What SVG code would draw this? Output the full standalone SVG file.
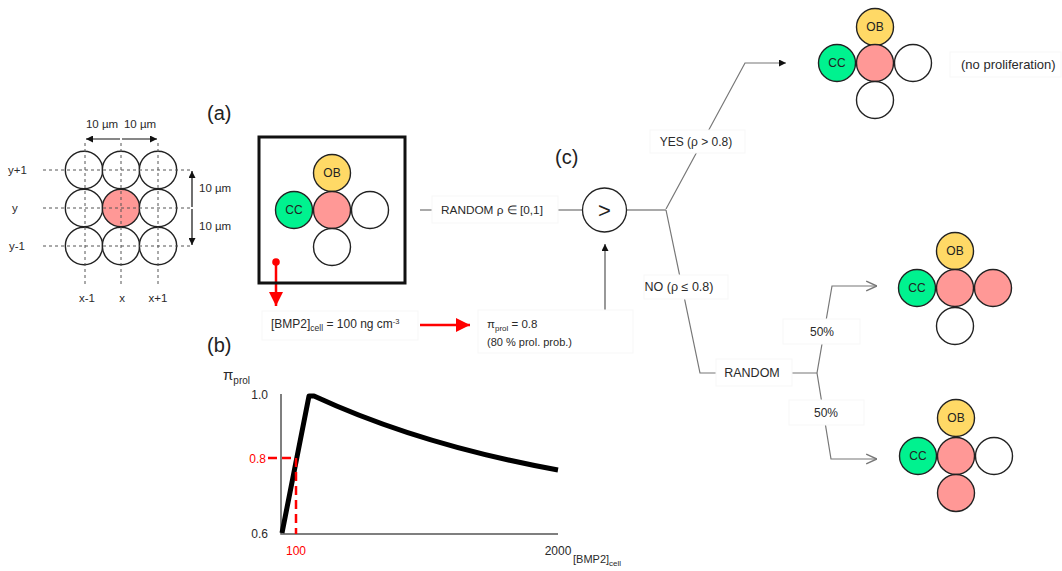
<svg xmlns="http://www.w3.org/2000/svg" width="1062" height="571" viewBox="0 0 1062 571">
<style>
text{font-family:"Liberation Sans",Arial,sans-serif;fill:#2a2a2a;font-size:11.5px}
.h{font-size:20px;fill:#222}
.cell{stroke:#222;stroke-width:1.4}
.w{fill:#fff}.p{fill:#ff9896}.ob{fill:#ffd966}.cc{fill:#00f28f}
.dash{stroke:#555;stroke-width:1;stroke-dasharray:3,3;fill:none}
.tb{fill:#fff;stroke:#f7f7f7;stroke-width:1}
.con{stroke:#777;stroke-width:1.2;fill:none}
.lbl{text-anchor:middle}
.cl{font-size:12px;text-anchor:middle;fill:#222}
</style>
<defs>
<marker id="ab" viewBox="0 0 10 10" refX="10" refY="5" markerWidth="7" markerHeight="7" orient="auto-start-reverse" markerUnits="userSpaceOnUse"><path d="M0,0L10,5L0,10z" fill="#111"/></marker>
<marker id="ar" viewBox="0 0 10 10" refX="10" refY="5" markerWidth="14" markerHeight="14" orient="auto" markerUnits="userSpaceOnUse"><path d="M0,0L10,5L0,10z" fill="#f00"/></marker>
<marker id="ao" viewBox="0 0 10 10" refX="10" refY="5" markerWidth="12" markerHeight="12" orient="auto" markerUnits="userSpaceOnUse"><path d="M1,1L10,5L1,9" fill="none" stroke="#777" stroke-width="1.2"/></marker>
</defs>

<!-- Grid -->
<g id="grid">
<g class="cell">
<circle cx="84" cy="170" r="18.7" class="w"/><circle cx="121" cy="170" r="18.7" class="w"/><circle cx="158" cy="170" r="18.7" class="w"/>
<circle cx="84" cy="208" r="18.7" class="w"/><circle cx="121" cy="208" r="18.7" class="p"/><circle cx="158" cy="208" r="18.7" class="w"/>
<circle cx="84" cy="246" r="18.7" class="w"/><circle cx="121" cy="246" r="18.7" class="w"/><circle cx="158" cy="246" r="18.7" class="w"/>
</g>
<path class="dash" d="M43,170H192M43,208H192M43,246H192M85,143V287M121,143V287M158,143V287"/>
<path d="M86,139H120M122,139H157" fill="none" stroke="#111" stroke-width="1.2" marker-start="url(#ab)" marker-end="url(#ab)"/>
<path d="M192,171V207M192,209V245" fill="none" stroke="#111" stroke-width="1.2" marker-start="url(#ab)" marker-end="url(#ab)"/>
<text x="102" y="128" class="lbl">10 µm</text>
<text x="140" y="128" class="lbl">10 µm</text>
<text x="199" y="192">10 µm</text>
<text x="199" y="230">10 µm</text>
<text x="8" y="174">y+1</text>
<text x="12" y="212">y</text>
<text x="9" y="250">y-1</text>
<text x="87" y="302" class="lbl">x-1</text>
<text x="122" y="302" class="lbl">x</text>
<text x="158" y="302" class="lbl">x+1</text>
</g>

<text x="207" y="120" class="h">(a)</text>
<text x="207" y="352" class="h">(b)</text>
<text x="555" y="164" class="h">(c)</text>

<!-- Connectors -->
<g id="connectors">
<path d="M420,210H432M558,210H582" fill="none" stroke="#555" stroke-width="1.2"/>
<path d="M626.5,210H666" fill="none" stroke="#555" stroke-width="1.2"/>
<path d="M557,325H605V244" fill="none" stroke="#555" stroke-width="1.2" marker-end="url(#ab)"/>
<path class="con" d="M666,209L745,63H786" marker-end="url(#ab)"/>
<path class="con" d="M666,210L700,373H716"/>
<path class="con" d="M792,373H817M817,373L832,286H877" marker-end="url(#ao)"/>
<path class="con" d="M817,373L831,459H877" marker-end="url(#ao)"/>
<path d="M276,262V306" fill="none" stroke="#f00" stroke-width="2.5" marker-end="url(#ar)"/>
<circle cx="276" cy="262" r="3.8" fill="#f00"/>
<path d="M420,325H470" fill="none" stroke="#f00" stroke-width="2.5" marker-end="url(#ar)"/>
</g>

<!-- Box a -->
<g id="box-a">
<rect x="259" y="137" width="146" height="146" fill="none" stroke="#111" stroke-width="3"/>
<g class="cell">
<circle cx="332" cy="173" r="18.5" class="ob"/>
<circle cx="294" cy="210" r="18.5" class="cc"/>
<circle cx="332" cy="210" r="18.5" class="p"/>
<circle cx="370" cy="210" r="18.5" class="w"/>
<circle cx="332" cy="247" r="18.5" class="w"/>
</g>
<text x="332" y="177" class="cl">OB</text>
<text x="294" y="214" class="cl">CC</text>
</g>

<g id="random">
<rect class="tb" x="432" y="196" width="126" height="27"/>
<text x="441" y="214" style="font-size:11.8px">RANDOM ρ ∈ [0,1]</text>
</g>

<g id="compare">
<circle cx="604.5" cy="210" r="22" fill="#fff" stroke="#222" stroke-width="1.3"/>
<text x="604.5" y="218" class="lbl" style="font-size:22px;fill:#222">&gt;</text>
</g>

<g id="bmp">
<rect class="tb" x="262" y="311" width="156" height="29"/>
<text x="271" y="328" style="font-size:12px">[BMP2]<tspan font-size="8.5" dy="3">cell</tspan><tspan dy="-3"> = 100 ng cm</tspan><tspan font-size="7.5" dy="-4">-3</tspan></text>
</g>

<g id="pi">
<rect class="tb" x="478" y="310" width="155" height="43"/>
<text x="487" y="328">π<tspan font-size="8" dy="3">prol</tspan><tspan dy="-3"> = 0.8</tspan></text>
<text x="487" y="346" style="font-size:11px">(80 % prol. prob.)</text>
</g>

<!-- Graph b -->
<g id="graph">
<path d="M281,394V534H558" fill="none" stroke="#555" stroke-width="1.5"/>
<path d="M282,533L309,396H314Q420,445 558,470" fill="none" stroke="#000" stroke-width="5" stroke-linejoin="round"/>
<path d="M268,458H296V534" fill="none" stroke="#f00" stroke-width="2.5" stroke-dasharray="9,5"/>
<text x="223" y="380" style="font-size:15px">π<tspan font-size="10" dy="4">prol</tspan></text>
<text x="268" y="399" text-anchor="end" style="font-size:12px">1.0</text>
<text x="266" y="463" text-anchor="end" style="font-size:12px;fill:#f00">0.8</text>
<text x="268" y="538" text-anchor="end" style="font-size:12px">0.6</text>
<text x="296" y="555" class="lbl" style="font-size:12px;fill:#f00">100</text>
<text x="558" y="555" class="lbl" style="font-size:12px">2000</text>
<text x="573" y="563" style="font-size:11px">[BMP2]<tspan font-size="8" dy="3">cell</tspan></text>
</g>

<!-- Branch labels -->
<g id="yes"><rect class="tb" x="650" y="130" width="95" height="23"/><text x="696" y="146" class="lbl" style="font-size:12px">YES (ρ &gt; 0.8)</text></g>
<g id="no"><rect class="tb" x="644" y="275" width="84" height="24"/><text x="679" y="291" class="lbl" style="font-size:12.5px">NO (ρ ≤ 0.8)</text></g>
<g id="random2"><rect class="tb" x="716" y="359" width="76" height="27"/><text x="752" y="377" class="lbl" style="font-size:12.5px">RANDOM</text></g>
<g id="p50a"><rect class="tb" x="783" y="319" width="77" height="25"/><text x="822" y="336" class="lbl" style="font-size:12px">50%</text></g>
<g id="p50b"><rect class="tb" x="789" y="400" width="75" height="25"/><text x="826" y="417" class="lbl" style="font-size:12px">50%</text></g>

<!-- Outcome 1 -->
<g id="out-none">
<g class="cell">
<circle cx="875" cy="27" r="18.5" class="ob"/>
<circle cx="837" cy="63" r="18.5" class="cc"/>
<circle cx="875" cy="63" r="18.5" class="p"/>
<circle cx="913" cy="63" r="18.5" class="w"/>
<circle cx="875" cy="100" r="18.5" class="w"/>
</g>
<text x="875" y="31" class="cl">OB</text>
<text x="837" y="67" class="cl">CC</text>
<rect class="tb" x="950" y="52" width="111" height="25"/>
<text x="961" y="69" style="font-size:13px">(no proliferation)</text>
</g>

<!-- Outcome 2 -->
<g id="out-right">
<g class="cell">
<circle cx="955" cy="251" r="18.5" class="ob"/>
<circle cx="917" cy="288" r="18.5" class="cc"/>
<circle cx="955" cy="288" r="18.5" class="p"/>
<circle cx="993" cy="288" r="18.5" class="p"/>
<circle cx="955" cy="326" r="18.5" class="w"/>
</g>
<text x="955" y="255" class="cl">OB</text>
<text x="917" y="292" class="cl">CC</text>
</g>

<!-- Outcome 3 -->
<g id="out-down">
<g class="cell">
<circle cx="956" cy="418" r="18.5" class="ob"/>
<circle cx="918" cy="456" r="18.5" class="cc"/>
<circle cx="956" cy="456" r="18.5" class="p"/>
<circle cx="994" cy="456" r="18.5" class="w"/>
<circle cx="956" cy="493" r="18.5" class="p"/>
</g>
<text x="956" y="422" class="cl">OB</text>
<text x="918" y="460" class="cl">CC</text>
</g>
</svg>
